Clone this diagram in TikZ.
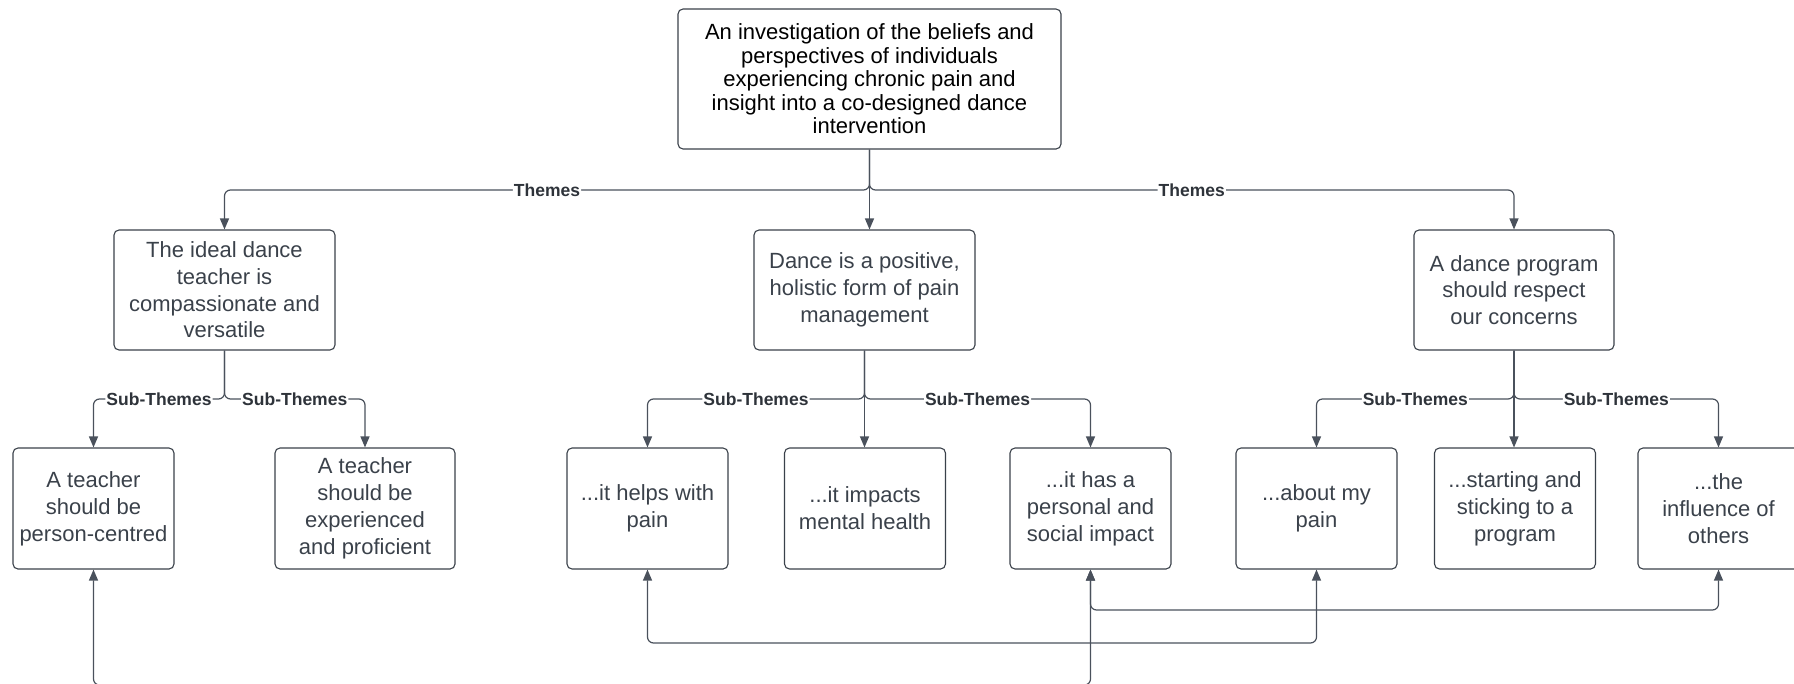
\documentclass[tikz,border=0pt]{standalone}
\usepackage{fontspec}
\setmainfont{Liberation Sans}
\usetikzlibrary{arrows.meta}
\definecolor{ink}{HTML}{3A414A}
\definecolor{edge}{HTML}{4A515C}
\definecolor{lbltext}{HTML}{2E333A}

\begin{document}
\begin{tikzpicture}[x=1pt,y=-1pt,
  >={Triangle[length=11pt,width=9pt]},
  box/.style={draw=ink, line width=1.1pt, rounded corners=5pt, align=center,
    inner sep=0pt, text=ink, font=\fontsize{22}{27}\selectfont},
  child/.style={box, minimum width=161pt, minimum height=121pt},
  conn/.style={draw=edge, line width=1.2pt, rounded corners=6pt, ->},
  both/.style={draw=edge, line width=1.2pt, rounded corners=6pt, <->},
  lbl/.style={fill=white, inner sep=1pt, text=lbltext,
    font=\bfseries\fontsize{17.5}{20}\selectfont}
]
\useasboundingbox (0,0) rectangle (1794,683);

% rows of the connector buses
\coordinate (bus0) at (0,190);
\coordinate (bus1) at (0,399);
\coordinate (busA) at (0,643);
\coordinate (busB) at (0,610);
\coordinate (srcA) at (200,685);
\coordinate (srcB) at (1000,685);

% title
\node[box, minimum width=383pt, minimum height=140pt, text=black,
  font=\fontsize{22}{23.5}\selectfont] (top) at (869.5,79)
  {An investigation of the beliefs and\\perspectives of individuals\\experiencing chronic pain and\\insight into a co-designed dance\\intervention};

% themes
\node[box, minimum width=221pt, minimum height=120pt, font=\fontsize{22}{26.7}\selectfont] (t1) at (224.5,290)
  {The ideal dance\\teacher is\\compassionate and\\versatile};
\node[box, minimum width=221pt, minimum height=120pt, font=\fontsize{22}{26.7}\selectfont] (t2) at (864.5,290)
  {Dance is a positive,\\holistic form of pain\\management};
\node[box, minimum width=200pt, minimum height=120pt, font=\fontsize{22}{26.7}\selectfont] (t3) at (1514,290)
  {A dance program\\should respect\\our concerns};

% sub-themes
\node[child] (c11) at (93.5,508.5) {A teacher\\should be\\person-centred};
\node[child, minimum width=180pt] (c12) at (365,508.5) {A teacher\\should be\\experienced\\and proficient};
\node[child] (c21) at (647.5,508.5) {...it helps with\\pain};
\node[child] (c22) at (865,508.5) {...it impacts\\mental health};
\node[child] (c23) at (1090.5,508.5) {...it has a\\personal and\\social impact};
\node[child] (c31) at (1316.5,508.5) {...about my\\pain};
\node[child] (c32) at (1515,508.5) {...starting and\\sticking to a\\program};
\node[child] (c33) at (1718.5,508.5) {...the\\influence of\\others};

% title to themes
\draw[conn] (top.south) -- (top.south |- bus0) -| node[lbl,pos=0.25]{Themes} (t1.north);
\draw[conn] (top.south) -- (top.south |- t2.north);
\draw[conn] (top.south) -- (top.south |- bus0) -| node[lbl,pos=0.25]{Themes} (t3.north);

% themes to sub-themes
\draw[conn] (t1.south) -- (t1.south |- bus1) -| node[lbl,pos=0.25]{Sub-Themes} (c11.north);
\draw[conn] (t1.south) -- (t1.south |- bus1) -| node[lbl,pos=0.25]{Sub-Themes} (c12.north);

\draw[conn] (t2.south) -- (t2.south |- bus1) -| node[lbl,pos=0.25]{Sub-Themes} (c21.north);
\draw[conn] (t2.south) -- (t2.south |- c22.north);
\draw[conn] (t2.south) -- (t2.south |- bus1) -| node[lbl,pos=0.25]{Sub-Themes} (c23.north);

\draw[conn] (t3.south) -- (t3.south |- bus1) -| node[lbl,pos=0.25]{Sub-Themes} (c31.north);
\draw[conn] (t3.south) -- (t3.south |- c32.north);
\draw[conn] (t3.south) -- (t3.south |- bus1) -| node[lbl,pos=0.25]{Sub-Themes} (c33.north);

% cross links between sub-themes
\draw[both] (c21.south) -- (c21.south |- busA) -| (c31.south);
\draw[both] (c23.south) -- (c23.south |- busB) -| (c33.south);

% links arriving from below
\draw[conn] (srcA) -| (c11.south);
\draw[conn] (srcB) -| (c23.south);
\end{tikzpicture}
\end{document}
